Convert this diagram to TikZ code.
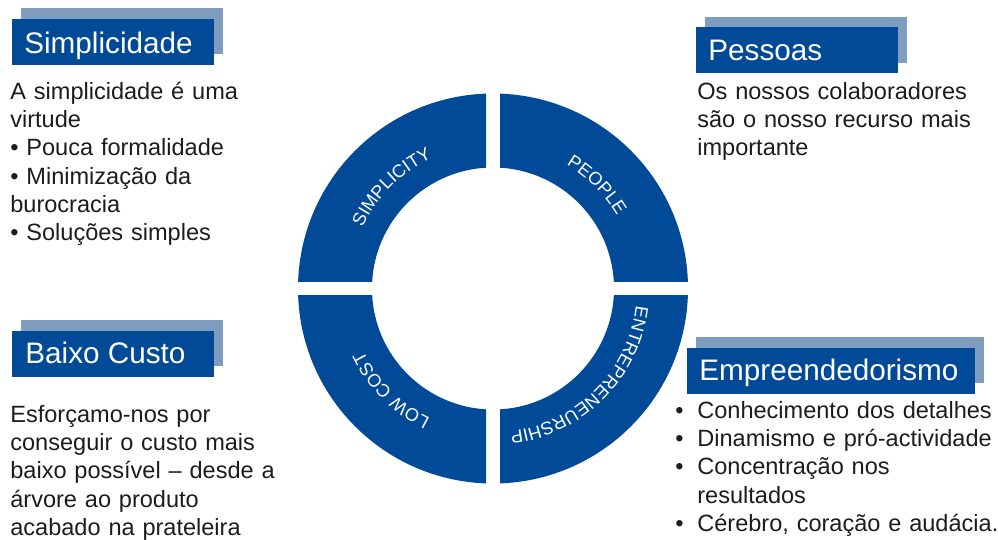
\documentclass[tikz,border=0pt]{standalone}
\usepackage{fontspec}
\setmainfont{Liberation Sans}
\usetikzlibrary{decorations.text}

\definecolor{ringblue}{RGB}{0,74,152}
\definecolor{shadowblue}{RGB}{127,157,191}
\definecolor{bodygray}{RGB}{28,28,28}

% font used for the labels that run around the ring
\newcommand\ringfont{\fontsize{10.3pt}{12pt}\selectfont\color{white}}
% hanging bullet for the list items
\newcommand\hangbul{\makebox[0.44cm][l]{•}}

\begin{document}
\begin{tikzpicture}[x=0.02cm, y=0.02cm,
  shadowbox/.style={fill=shadowblue, draw=none, anchor=south west,
    minimum height=0.93cm, inner sep=0pt, outer sep=0pt},
  titlebox/.style={fill=ringblue, draw=none, anchor=south west,
    minimum height=0.93cm, inner sep=0pt, outer sep=0pt},
  titletext/.style={text=white, font=\fontsize{16.9pt}{20pt}\selectfont,
    anchor=base west, inner sep=0pt},
  bodytext/.style={text=bodygray, font=\fontsize{13.4pt}{16.15pt}\selectfont,
    anchor=base west, inner sep=0pt, align=left, text width=8cm},
  quadrant/.style={fill=ringblue, even odd rule},
  ringlabel/.style={decorate, decoration={text along path, text align=center, text={#1}}}
]
\useasboundingbox (0,0) rectangle (998,539);

% ---- the four-part ring ----
\coordinate (c) at (493,250.5);
\begin{scope}[shift={(c)}]
  \foreach \sx/\sy in {1/1,-1/1,-1/-1,1/-1}{
    \begin{scope}
      \clip (\sx*7,\sy*7) rectangle (\sx*210,\sy*210);
      \fill[quadrant] (0,0) circle[radius=195] (0,0) circle[radius=121];
    \end{scope}
  }
  \path[ringlabel={|\ringfont|SIMPLICITY}] (180:144) arc[start angle=180, end angle=90, radius=144];
  \path[ringlabel={|\ringfont|PEOPLE}] (90:144) arc[start angle=90, end angle=0, radius=144];
  \path[ringlabel={|\ringfont|ENTREPRENEURSHIP}] (0:144) arc[start angle=0, end angle=-90, radius=144];
  \path[ringlabel={|\ringfont|LOW COST}] (270:144) arc[start angle=270, end angle=180, radius=144];
\end{scope}

% ---- Simplicidade ----
\node[shadowbox, minimum width=4.04cm] (simpshadow) at (21,485) {};
\node[titlebox, minimum width=4.04cm] (simpbox) at (12,474) {};
\node[titletext] (simptitle) at (24,486) {Simplicidade};
\node[bodytext] (simptext) at (10,440) {A simplicidade é uma\\virtude\\• Pouca formalidade\\• Minimização da\\burocracia\\• Soluções simples};

% ---- Pessoas ----
\node[shadowbox, minimum width=4.04cm] (pesshadow) at (705,476) {};
\node[titlebox, minimum width=4.04cm] (pesbox) at (696,466) {};
\node[titletext] (pestitle) at (708,479) {Pessoas};
\node[bodytext] (pestext) at (697,440) {Os nossos colaboradores\\são o nosso recurso mais\\importante};

% ---- Baixo Custo ----
\node[shadowbox, minimum width=4.04cm] (baixshadow) at (21,173) {};
\node[titlebox, minimum width=4.04cm] (baixbox) at (12,162) {};
\node[titletext] (baixtitle) at (25,176) {Baixo Custo};
\node[bodytext] (baixtext) at (10,117) {Esforçamo-nos por\\conseguir o custo mais\\baixo possível – desde a\\árvore ao produto\\acabado na prateleira};

% ---- Empreendedorismo ----
\node[shadowbox, minimum width=5.76cm] (empshadow) at (696,156) {};
\node[titlebox, minimum width=5.76cm] (empbox) at (687,145) {};
\node[titletext] (emptitle) at (699,159) {Empreendedorismo};
\node[bodytext] (emptext) at (675,121) {\hangbul Conhecimento dos detalhes\\\hangbul Dinamismo e pró-actividade\\\hangbul Concentração nos\\\hspace*{0.44cm}resultados\\\hangbul Cérebro, coração e audácia.};
\end{tikzpicture}
\end{document}
